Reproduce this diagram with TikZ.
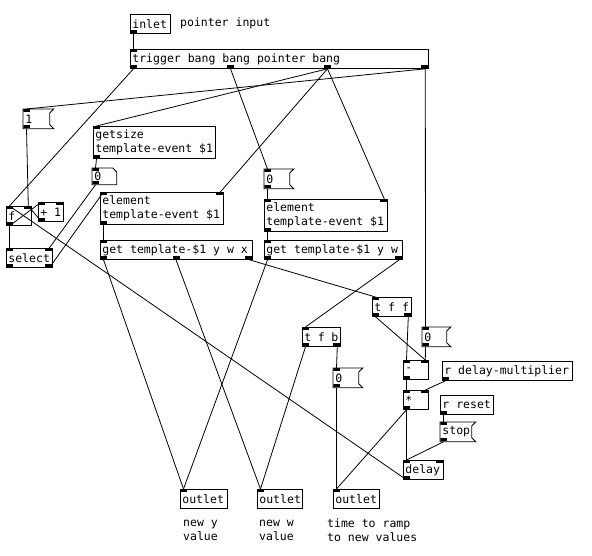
\documentclass[tikz,border=0pt]{standalone}
\usepackage{fontspec}
\newfontfamily\pdmono{DejaVu Sans Mono}
\usetikzlibrary{calc}
\newcommand{\pdfont}{\pdmono\fontsize{11.5}{14}\selectfont}
\tikzset{
  box/.style={draw, line width=0.8pt},
  obj/.style={box, anchor=north west, inner xsep=2pt, inner ysep=0pt, minimum height=19pt, align=flush left, font=\pdfont,
    execute at begin node={\spaceskip=0pt\xspaceskip=0pt}},
  msg/.style={obj, draw=none},
  note/.style={anchor=west, inner sep=0pt, align=left, font=\pdfont},
  wire/.style={line width=0.8pt},
  ports/.style 2 args={path picture={
    \ifnum#1>0
      \foreach \k in {1,...,#1}{
        \pgfmathsetmacro\pf{(\k-1)/max(#1-1,1)}
        \fill let \p1=(path picture bounding box.north west), \p2=(path picture bounding box.north east) in
          ({\x1+\pf*(\x2-\x1-7pt)},\y1) rectangle ++(7pt,-3pt);
      }
    \fi
    \ifnum#2>0
      \foreach \k in {1,...,#2}{
        \pgfmathsetmacro\pf{(\k-1)/max(#2-1,1)}
        \fill let \p1=(path picture bounding box.south west), \p2=(path picture bounding box.south east) in
          ({\x1+\pf*(\x2-\x1-7pt)},\y1) rectangle ++(7pt,3pt);
      }
    \fi
  }},
}

\begin{document}
\begin{tikzpicture}[x=1pt, y=-1pt]
\useasboundingbox (0,0) rectangle (592,556);

\node (inl) [obj, text width=36pt, ports={0}{1}] at (130,14) {inlet};
\node (inlnote) [note] at (180,23) {pointer input};
\node (trig) [obj, text width=294pt, ports={1}{4}] at (130,49) {trigger bang bang pointer bang};

\node (one) [msg, text width=22pt, ports={1}{1}] at (23,109) {1};
\node (gsize) [obj, text width=118pt, minimum height=32pt, ports={1}{1}] at (93,126) {getsize\\template-event \$1};
\node (num) [msg, text width=20pt, minimum height=16pt, ports={1}{1}] at (92,168) {0};
\node (f) [obj, text width=21pt, ports={2}{1}] at (6,206) {f};
\node (plus) [obj, text width=21pt, ports={2}{1}] at (38,202) {+ 1};
\node (sel) [obj, text width=42pt, ports={2}{2}] at (6,248) {select};
\node (elA) [obj, text width=119pt, minimum height=32pt, ports={2}{1}] at (100,192) {element\\template-event \$1};
\node (getA) [obj, text width=148pt, ports={1}{3}] at (100,240) {get template-\$1 y w x};

\node (zb) [msg, text width=21pt, ports={1}{1}] at (264,169) {0};
\node (elB) [obj, text width=119pt, minimum height=32pt, ports={2}{1}] at (264,199) {element\\template-event \$1};
\node (getB) [obj, text width=134pt, ports={1}{2}] at (264,240) {get template-\$1 y w};

\node (tff) [obj, text width=35pt, ports={1}{2}] at (372,297) {t f f};
\node (tfb) [obj, text width=34pt, ports={1}{2}] at (302,327) {t f b};
\node (zc) [msg, text width=20pt, ports={1}{1}] at (422,327) {0};
\node (zd) [msg, text width=21pt, ports={1}{1}] at (333,368) {0};
\node (minus) [obj, text width=21pt, ports={2}{1}] at (403,360) {-};
\node (rdm) [obj, text width=126pt, ports={0}{1}] at (442,361) {r delay-multiplier};
\node (times) [obj, text width=21pt, ports={2}{1}] at (403,390) {*};
\node (rrst) [obj, text width=49pt, ports={0}{1}] at (440,395) {r reset};
\node (stop) [msg, text width=27pt, ports={1}{1}] at (440,422) {stop};
\node (dly) [obj, text width=36pt, ports={2}{1}] at (403,460) {delay};

\node (outA) [obj, text width=43pt, ports={1}{0}] at (180,489) {outlet};
\node (outB) [obj, text width=41pt, ports={1}{0}] at (257,489) {outlet};
\node (outC) [obj, text width=42pt, ports={1}{0}] at (333,489) {outlet};
\node (noteA) [note] at (183,530) {new y\\value};
\node (noteB) [note] at (259,530) {new w\\value};
\node (noteC) [note] at (327,530) {time to ramp\\to new values};

% message and number boxes
\foreach \m in {one, zb, zc, zd, stop}
  \draw [box] (\m.north west) -- ([xshift=4pt]\m.north east) -- ([yshift=-4pt]\m.north east)
    -- ([yshift=4pt]\m.south east) -- ([xshift=4pt]\m.south east) -- (\m.south west) -- cycle;
\draw [box] (num.north west) -- ([xshift=-4pt]num.north east) -- ([yshift=-4pt]num.north east)
  -- (num.south east) -- (num.south west) -- cycle;

% wires
\draw [wire] ([xshift=3.5pt]inl.south west) -- ([xshift=3.5pt]trig.north west);
\draw [wire] ([xshift=3.5pt]trig.south west) -- ([xshift=3.5pt]f.north west);
\draw [wire] ([xshift=100.5pt]trig.south west) -- ([xshift=3.5pt]zb.north west);
\draw [wire] ([xshift=197.5pt]trig.south west) -- ([xshift=3.5pt]gsize.north west);
\draw [wire] ([xshift=197.5pt]trig.south west) -- ([xshift=-3.5pt]elA.north east);
\draw [wire] ([xshift=197.5pt]trig.south west) -- ([xshift=-3.5pt]elB.north east);
\draw [wire] ([xshift=-3.5pt]trig.south east) -- ([xshift=3.5pt]one.north west);
\draw [wire] ([xshift=-3.5pt]trig.south east) -- ([xshift=3.5pt]zc.north west);

\draw [wire] ([xshift=3.5pt]one.south west) -- ([xshift=-3.5pt]f.north east);
\draw [wire] ([xshift=3.5pt]f.south west) -- ([xshift=3.5pt]sel.north west);
\draw [wire] ([xshift=3.5pt]f.south west) -- ([xshift=3.5pt]plus.north west);
\draw [wire] ([xshift=3.5pt]plus.south west) -- ([xshift=-3.5pt]f.north east);
\draw [wire] ([xshift=3.5pt]gsize.south west) -- ([xshift=3.5pt]num.north west);
\draw [wire] ([xshift=3.5pt]num.south west) -- ([xshift=-3.5pt]sel.north east);
\draw [wire] ([xshift=-3.5pt]sel.south east) -- ([xshift=3.5pt]elA.north west);
\draw [wire] ([xshift=3.5pt]elA.south west) -- ([xshift=3.5pt]getA.north west);
\draw [wire] ([xshift=3.5pt]zb.south west) -- ([xshift=3.5pt]elB.north west);
\draw [wire] ([xshift=3.5pt]elB.south west) -- ([xshift=3.5pt]getB.north west);

\draw [wire] ([xshift=3.5pt]getA.south west) -- ([xshift=3.5pt]outA.north west);
\draw [wire] ([xshift=76pt]getA.south west) -- ([xshift=3.5pt]outB.north west);
\draw [wire] ([xshift=-3.5pt]getA.south east) -- ([xshift=3.5pt]tff.north west);
\draw [wire] ([xshift=3.5pt]getB.south west) -- ([xshift=3.5pt]outA.north west);
\draw [wire] ([xshift=-3.5pt]getB.south east) -- ([xshift=3.5pt]tfb.north west);
\draw [wire] ([xshift=3.5pt]tfb.south west) -- ([xshift=3.5pt]outB.north west);
\draw [wire] ([xshift=-3.5pt]tfb.south east) -- ([xshift=3.5pt]zd.north west);
\draw [wire] ([xshift=3.5pt]zd.south west) -- ([xshift=3.5pt]outC.north west);

\draw [wire] ([xshift=-3.5pt]tff.south east) -- ([xshift=3.5pt]minus.north west);
\draw [wire] ([xshift=3.5pt]tff.south west) -- ([xshift=-3.5pt]minus.north east);
\draw [wire] ([xshift=3.5pt]zc.south west) -- ([xshift=-3.5pt]minus.north east);
\draw [wire] ([xshift=3.5pt]minus.south west) -- ([xshift=3.5pt]times.north west);
\draw [wire] ([xshift=3.5pt]rdm.south west) -- ([xshift=-3.5pt]times.north east);
\draw [wire] ([xshift=3.5pt]times.south west) -- ([xshift=3.5pt]dly.north west);
\draw [wire] ([xshift=3.5pt]times.south west) -- ([xshift=3.5pt]outC.north west);
\draw [wire] ([xshift=3.5pt]rrst.south west) -- ([xshift=3.5pt]stop.north west);
\draw [wire] ([xshift=3.5pt]stop.south west) -- ([xshift=3.5pt]dly.north west);
\draw [wire] ([xshift=3.5pt]dly.south west) -- ([xshift=3.5pt]f.north west);

\end{tikzpicture}
\end{document}
